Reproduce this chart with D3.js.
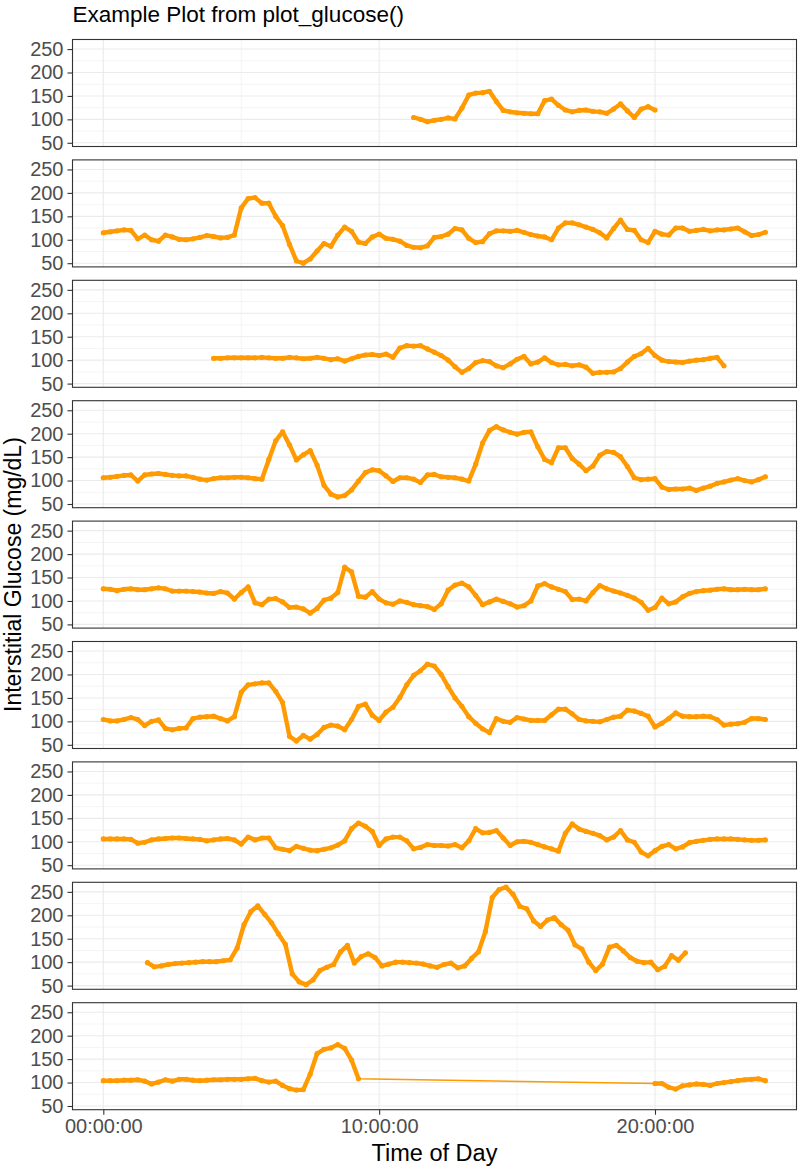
<!DOCTYPE html>
<html>
<head>
    <title>Example Plot from plot_glucose()</title>
    <script src="https://d3js.org/d3.v7.min.js"></script>
    <style>
        body { margin: 0; background: #fff; }
        svg { font-family: "Liberation Sans", Arial, Helvetica, sans-serif; }
        .tick text { fill: #4D4D4D; font-size: 20px; }
        .tick line { stroke: #333333; stroke-width: 1.1; }
        .domain { display: none; }
    </style>
</head>
<body>
<div id="chart"></div>
<script>
    // Axis breaks and labels
    const hourTicks = [0, 10, 20];
    const hourLabels = ["00:00:00", "10:00:00", "20:00:00"];
    const hourMinor = [5, 15, 25];
    const glucoseTicks = [50, 100, 150, 200, 250];
    const glucoseMinor = [75, 125, 175, 225];

    // Glucose readings (mg/dL), one every 15 minutes from each start hour
    const day1Start = 11.25;
    const day1 = [104, 100, 95, 98, 100, 103, 101, 124, 152, 156, 157, 160, 138, 119, 116, 114,
        113, 112, 112, 140, 143, 130, 120, 116, 119, 120, 117, 116, 113, 122, 133, 118, 104, 122, 127, 120];

    const day2Start = 0;
    const day2 = [115, 117, 119, 121, 120, 102, 110, 100, 97, 110, 106, 101, 100, 102, 105, 109,
        107, 104, 105, 110, 168, 188, 190, 178, 178, 150, 130, 90, 55, 50, 59, 76,
        92, 86, 110, 127, 118, 95, 92, 106, 112, 103, 101, 97, 88, 84, 83, 87,
        105, 107, 112, 124, 121, 103, 94, 96, 113, 119, 119, 118, 120, 116, 111, 108,
        106, 100, 125, 136, 136, 132, 127, 122, 115, 104, 124, 142, 122, 120, 100, 94,
        118, 112, 110, 125, 125, 118, 120, 122, 119, 121, 121, 123, 125, 117, 109, 111, 116];

    const day3Start = 4;
    const day3 = [104, 104, 105, 105, 105, 105, 105, 106, 105, 104, 104, 106, 105, 103, 104, 106,
        104, 101, 103, 98, 103, 108, 111, 112, 110, 113, 106, 126, 131, 130, 131, 124,
        117, 110, 100, 86, 74, 82, 95, 99, 97, 88, 84, 92, 102, 108, 92, 96,
        105, 95, 90, 91, 88, 90, 85, 72, 74, 74, 75, 82, 96, 108, 114, 125,
        110, 100, 97, 96, 95, 98, 100, 101, 104, 106, 88];

    const day4Start = 0;
    const day4 = [106, 107, 109, 111, 112, 99, 112, 114, 115, 113, 111, 110, 110, 107, 103, 101,
        104, 106, 106, 107, 107, 106, 104, 103, 145, 185, 204, 176, 144, 155, 164, 133,
        90, 71, 65, 68, 80, 99, 117, 123, 121, 110, 98, 106, 106, 103, 96, 112,
        113, 108, 107, 106, 103, 99, 135, 180, 207, 215, 208, 203, 199, 203, 204, 172,
        145, 138, 170, 170, 147, 135, 121, 131, 154, 162, 160, 151, 130, 106, 102, 103,
        104, 86, 81, 82, 82, 84, 79, 84, 88, 94, 97, 101, 104, 100, 97, 102, 108];

    const day5Start = 0;
    const day5 = [126, 125, 122, 125, 126, 124, 124, 126, 128, 126, 121, 121, 121, 120, 119, 117,
        116, 120, 117, 104, 118, 130, 96, 92, 104, 105, 98, 86, 87, 83, 74, 84,
        102, 106, 118, 172, 162, 110, 108, 120, 104, 96, 93, 100, 97, 92, 90, 88,
        82, 94, 123, 134, 138, 130, 112, 92, 98, 104, 99, 94, 87, 90, 100, 132,
        137, 130, 125, 120, 103, 104, 100, 118, 133, 126, 121, 117, 112, 106, 97, 80,
        86, 106, 94, 98, 109, 116, 120, 122, 123, 125, 126, 124, 124, 125, 124, 124, 126];

    const day6Start = 0;
    const day6 = [104, 101, 101, 104, 108, 104, 91, 100, 103, 85, 82, 85, 86, 106, 109, 110,
        111, 106, 101, 110, 162, 178, 180, 182, 182, 164, 140, 68, 58, 70, 62, 72,
        87, 92, 90, 82, 104, 132, 137, 113, 102, 120, 130, 151, 178, 198, 208, 222,
        218, 200, 174, 150, 132, 110, 96, 84, 76, 106, 100, 98, 108, 105, 102, 102,
        102, 114, 126, 126, 116, 104, 101, 100, 99, 104, 109, 111, 124, 122, 117, 111,
        88, 96, 106, 118, 111, 110, 110, 111, 110, 104, 92, 94, 95, 98, 106, 106, 104];

    const day7Start = 0;
    const day7 = [106, 106, 106, 106, 105, 97, 99, 104, 106, 107, 108, 108, 107, 106, 105, 102,
        104, 106, 107, 104, 95, 110, 104, 108, 108, 87, 84, 81, 90, 86, 82, 81,
        84, 87, 93, 102, 128, 140, 133, 122, 92, 106, 110, 110, 102, 85, 88, 94,
        92, 92, 91, 94, 87, 102, 128, 119, 120, 124, 108, 92, 100, 101, 99, 94,
        89, 85, 80, 118, 138, 127, 122, 118, 113, 104, 110, 124, 104, 99, 78, 70,
        81, 90, 94, 85, 89, 98, 101, 103, 105, 106, 106, 106, 105, 104, 103, 103, 104];

    const day8Start = 1.6;
    const day8 = [99, 90, 92, 95, 97, 98, 99, 100, 101, 101, 101, 103, 105, 130, 180, 208,
        220, 202, 184, 160, 138, 75, 58, 52, 62, 82, 89, 95, 122, 136, 98, 112,
        118, 110, 92, 96, 100, 100, 99, 98, 96, 92, 89, 95, 98, 88, 92, 108,
        122, 165, 238, 255, 260, 245, 219, 214, 188, 176, 190, 195, 180, 168, 137, 128,
        100, 82, 96, 132, 136, 124, 110, 102, 99, 100, 84, 91, 114, 104, 120];

    // day 9 has a gap in the recording between the morning and the evening
    const day9aStart = 0;
    const day9a = [104, 104, 104, 105, 105, 106, 103, 97, 101, 106, 103, 107, 107, 105, 104, 105,
        106, 106, 107, 107, 107, 108, 109, 104, 101, 103, 94, 87, 84, 85, 118, 162,
        171, 174, 181, 173, 148, 108];
    const day9bStart = 20;
    const day9b = [98, 98, 90, 86, 93, 95, 97, 96, 94, 98, 100, 102, 104, 106, 107, 108, 104];

    const STEP = 0.25;
    function toPoints(start, values) {
        return values.map((v, i) => ({ hour: start + i * STEP, glucose: v }));
    }

    const days = [
        toPoints(day1Start, day1),
        toPoints(day2Start, day2),
        toPoints(day3Start, day3),
        toPoints(day4Start, day4),
        toPoints(day5Start, day5),
        toPoints(day6Start, day6),
        toPoints(day7Start, day7),
        toPoints(day8Start, day8),
        toPoints(day9aStart, day9a).concat(toPoints(day9bStart, day9b))
    ];

    // split a day into runs of readings with no gap in the recording
    function runs(pts) {
        const out = [];
        let cur = [];
        pts.forEach((p, i) => {
            if (i > 0 && p.hour - pts[i - 1].hour > STEP * 1.5) {
                out.push(cur);
                cur = [];
            }
            cur.push(p);
        });
        out.push(cur);
        return out;
    }

    // Layout
    const width = 798, height = 1168;
    const left = 72.5, right = 796.5;
    const firstTop = 39.5, pitch = 120.4, panelH = 107;
    const lineColor = "#FF9A00";

    const svg = d3.select("#chart").append("svg")
        .attr("width", width)
        .attr("height", height);

    const x = d3.scaleLinear().domain([-1.117, 25.13]).range([left, right]);
    const y = d3.scaleLinear().domain([42.1, 270.4]).range([panelH, 0]);

    const line = d3.line()
        .x(d => x(d.hour))
        .y(d => y(d.glucose));

    days.forEach((pts, k) => {
        const top = firstTop + k * pitch;
        const g = svg.append("g").attr("transform", `translate(0,${top})`);

        g.append("rect")
            .attr("x", left).attr("y", 0)
            .attr("width", right - left).attr("height", panelH)
            .attr("fill", "#fff");

        // grid
        g.selectAll(".hminor").data(glucoseMinor).enter().append("line")
            .attr("x1", left).attr("x2", right)
            .attr("y1", d => y(d)).attr("y2", d => y(d))
            .attr("stroke", "#EBEBEB").attr("stroke-width", 0.55);
        g.selectAll(".vminor").data(hourMinor).enter().append("line")
            .attr("x1", d => x(d)).attr("x2", d => x(d))
            .attr("y1", 0).attr("y2", panelH)
            .attr("stroke", "#EBEBEB").attr("stroke-width", 0.55);
        g.selectAll(".hmajor").data(glucoseTicks).enter().append("line")
            .attr("x1", left).attr("x2", right)
            .attr("y1", d => y(d)).attr("y2", d => y(d))
            .attr("stroke", "#EBEBEB").attr("stroke-width", 1.1);
        g.selectAll(".vmajor").data(hourTicks).enter().append("line")
            .attr("x1", d => x(d)).attr("x2", d => x(d))
            .attr("y1", 0).attr("y2", panelH)
            .attr("stroke", "#EBEBEB").attr("stroke-width", 1.1);

        // data: thin connecting line, then the dense readings
        g.append("path")
            .datum(pts)
            .attr("d", line)
            .attr("fill", "none")
            .attr("stroke", lineColor)
            .attr("stroke-width", 1.6);
        g.selectAll(".run").data(runs(pts)).enter().append("path")
            .attr("d", line)
            .attr("fill", "none")
            .attr("stroke", lineColor)
            .attr("stroke-width", 4.4)
            .attr("stroke-linejoin", "round")
            .attr("stroke-linecap", "round");
        g.selectAll("circle").data(pts).enter().append("circle")
            .attr("cx", d => x(d.hour))
            .attr("cy", d => y(d.glucose))
            .attr("r", 2.6)
            .attr("fill", lineColor);

        g.append("rect")
            .attr("x", left).attr("y", 0)
            .attr("width", right - left).attr("height", panelH)
            .attr("fill", "none")
            .attr("stroke", "#333333")
            .attr("stroke-width", 1.1);

        // y axis
        g.append("g")
            .attr("transform", `translate(${left},0)`)
            .call(d3.axisLeft(y).tickValues(glucoseTicks).tickSize(5).tickPadding(4));

        // x axis only under the last panel
        if (k === days.length - 1) {
            g.append("g")
                .attr("transform", `translate(0,${panelH})`)
                .call(d3.axisBottom(x).tickValues(hourTicks)
                    .tickFormat((d, i) => hourLabels[i])
                    .tickSize(5).tickPadding(4));
        }
    });

    // titles
    svg.append("text")
        .attr("x", left).attr("y", 22)
        .attr("font-size", 22.5).attr("fill", "#000")
        .text("Example Plot from plot_glucose()");

    svg.append("text")
        .attr("x", (left + right) / 2).attr("y", 1161)
        .attr("text-anchor", "middle")
        .attr("font-size", 23.5).attr("fill", "#000")
        .text("Time of Day");

    svg.append("text")
        .attr("transform", `translate(21,${(firstTop + 8 * pitch + panelH + firstTop) / 2}) rotate(-90)`)
        .attr("text-anchor", "middle")
        .attr("font-size", 23).attr("fill", "#000")
        .text("Interstitial Glucose (mg/dL)");
</script>
</body>
</html>
